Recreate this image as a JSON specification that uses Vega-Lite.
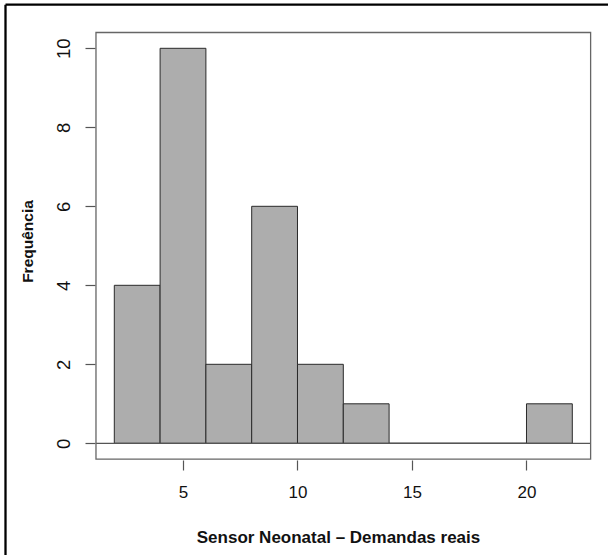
{
  "$schema": "https://vega.github.io/schema/vega-lite/v6.json",
  "width": 608,
  "height": 555,
  "autosize": {"type": "none"},
  "padding": 0,
  "background": "white",
  "config": {"view": {"stroke": null}, "font": "Liberation Sans"},
  "data": {
    "values": [
      {"bin_start": 2, "bin_end": 4, "count": 4},
      {"bin_start": 4, "bin_end": 6, "count": 10},
      {"bin_start": 6, "bin_end": 8, "count": 2},
      {"bin_start": 8, "bin_end": 10, "count": 6},
      {"bin_start": 10, "bin_end": 12, "count": 2},
      {"bin_start": 12, "bin_end": 14, "count": 1},
      {"bin_start": 14, "bin_end": 16, "count": 0},
      {"bin_start": 16, "bin_end": 18, "count": 0},
      {"bin_start": 18, "bin_end": 20, "count": 0},
      {"bin_start": 20, "bin_end": 22, "count": 1}
    ]
  },
  "layer": [
    {
      "mark": {"type": "rect", "fill": "#adadad", "stroke": "#2a2a2a", "strokeWidth": 1},
      "encoding": {
        "x": {
          "field": "bin_start", "type": "quantitative",
          "scale": {"domain": [-2.9913, 23.559], "nice": false, "zero": false},
          "axis": {
            "values": [5, 10, 15, 20], "offset": -95, "domain": false, "grid": false,
            "tickSize": 10, "tickColor": "#555", "tickWidth": 1.2,
            "labelFontSize": 17, "labelColor": "#111", "labelPadding": 22, "labelBaseline": "middle",
            "labelAlign": "center", "labelFlush": false, "labelOverlap": false,
            "title": "Sensor Neonatal – Demandas reais", "titleFontSize": 17, "titleFontWeight": "bold",
            "titleColor": "#111", "titleX": 338, "titleY": 77, "titleBaseline": "middle", "titleAlign": "center"
          }
        },
        "x2": {"field": "bin_end"},
        "y": {
          "field": "count", "type": "quantitative",
          "scale": {"domain": [-2.8278, 11.2228], "nice": false, "zero": false},
          "axis": {
            "values": [0, 2, 4, 6, 8, 10], "offset": -95, "domain": false, "grid": false,
            "tickSize": 10, "tickColor": "#555", "tickWidth": 1.2,
            "labelFontSize": 18.5, "labelColor": "#111", "labelPadding": 22, "labelAngle": -90,
            "labelAlign": "center", "labelBaseline": "middle", "labelFlush": false, "labelOverlap": false,
            "title": "Frequência", "titleFontSize": 15.5, "titleFontWeight": "bold", "titleColor": "#111",
            "titleX": -68, "titleY": 241, "titleAngle": -90, "titleBaseline": "middle", "titleAlign": "center"
          }
        },
        "y2": {"datum": 0}
      }
    },
    {
      "data": {"values": [{}]},
      "mark": {"type": "rule", "color": "#555", "strokeWidth": 1.2},
      "encoding": {
        "x": {"datum": 1.2, "type": "quantitative"},
        "x2": {"datum": 22.8},
        "y": {"datum": 0, "type": "quantitative"}
      }
    },
    {
      "data": {"values": [{}]},
      "mark": {"type": "rect", "fill": "transparent", "stroke": "#666", "strokeWidth": 1.3},
      "encoding": {
        "x": {"datum": 1.2, "type": "quantitative"},
        "x2": {"datum": 22.8},
        "y": {"datum": -0.4, "type": "quantitative"},
        "y2": {"datum": 10.4}
      }
    },
    {
      "data": {"values": [{}]},
      "mark": {"type": "rule", "color": "black", "strokeWidth": 2.3},
      "encoding": {
        "x": {"datum": -2.751, "type": "quantitative"},
        "x2": {"datum": 23.559},
        "y": {"datum": 11.104, "type": "quantitative"}
      }
    },
    {
      "data": {"values": [{}]},
      "mark": {"type": "rule", "color": "black", "strokeWidth": 2.3},
      "encoding": {
        "x": {"datum": -2.751, "type": "quantitative"},
        "y": {"datum": 11.104, "type": "quantitative"},
        "y2": {"datum": -2.8278}
      }
    }
  ]
}
